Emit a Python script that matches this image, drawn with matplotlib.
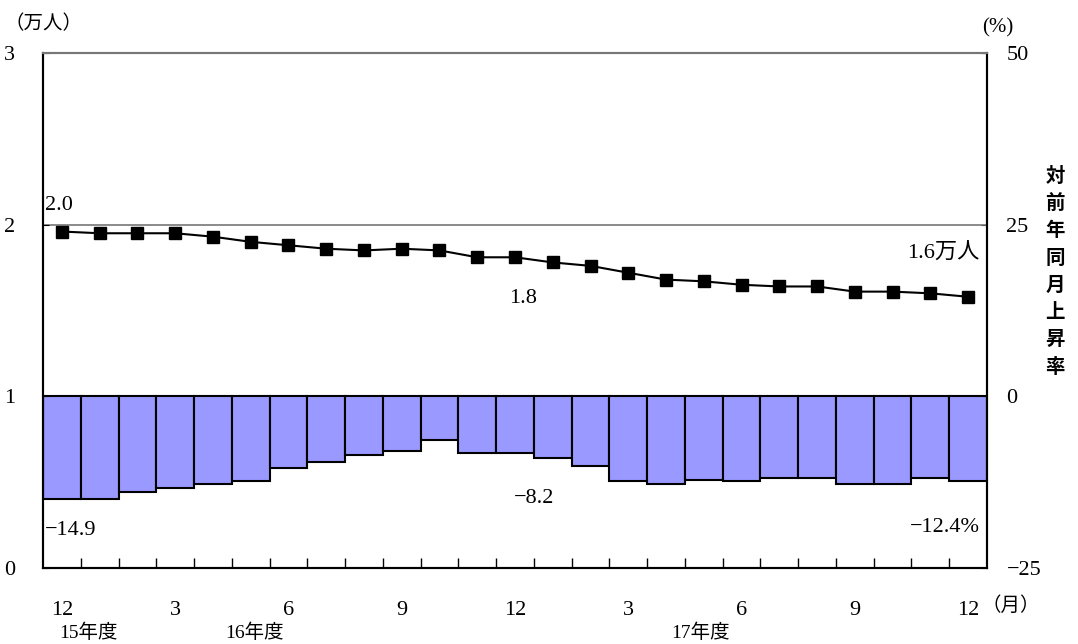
import numpy as np
import matplotlib
matplotlib.use('Agg')
import matplotlib.pyplot as plt
from matplotlib.ticker import FixedLocator

plt.rcParams['font.family'] = ['Liberation Serif', 'Noto Sans CJK JP']

# monthly data, H15.12 -> H17.12
months = [12, 1, 2, 3, 4, 5, 6, 7, 8, 9, 10, 11, 12,
          1, 2, 3, 4, 5, 6, 7, 8, 9, 10, 11, 12]
workers = [1.96, 1.95, 1.95, 1.95, 1.93, 1.90, 1.88, 1.86, 1.85, 1.86, 1.85, 1.81, 1.81,
           1.78, 1.76, 1.72, 1.68, 1.67, 1.65, 1.64, 1.64, 1.61, 1.61, 1.60, 1.58]
rate = [-14.9, -14.9, -13.9, -13.4, -12.8, -12.4, -10.4, -9.5, -8.6, -7.9, -6.4, -8.2, -8.2,
        -9.0, -10.2, -12.4, -12.8, -12.2, -12.4, -11.9, -11.9, -12.8, -12.8, -11.9, -12.4]
label_months = [12, 3, 6, 9, 12, 3, 6, 9, 12]
year_labels = ['15年度', '16年度', '17年度']
year_pos = [0.7, 5.1, 16.9]

x = np.arange(len(months))
fs = 16

fig = plt.figure(figsize=(10.78, 6.44), dpi=100)
ax = fig.add_axes([0.0399, 0.118, 0.8757, 0.7997])
ax2 = ax.twinx()

# bars on right axis (%)
ax2.bar(x, rate, width=1.0, color='#9999ff', edgecolor='black', linewidth=1.5)
ax2.set_ylim(-25, 50)
ax2.set_yticks([-25, 0, 25, 50])
ax2.set_yticklabels(['−25', '0', '25', '50'])
ax2.tick_params(axis='y', direction='in', length=4, pad=14, labelsize=fs)

# line on left axis
ax.set_zorder(ax2.get_zorder() + 1)
ax.patch.set_visible(False)
ax.axhline(2, color='#777777', lw=1.2, zorder=1)
ax.plot(x, workers, color='black', lw=1.5, marker='s', markersize=9, zorder=3)
ax.set_ylim(0, 3)
ax.set_xlim(-0.5, len(months) - 0.5)
ax.set_yticks([0, 1, 2, 3])
ax.tick_params(axis='y', direction='in', length=4, pad=20, labelsize=fs)

ax.set_xticks(x[::3])
ax.set_xticklabels([str(m) for m in label_months])
ax.xaxis.set_minor_locator(FixedLocator(np.arange(0.5, len(months) - 1, 1.0)))
ax.tick_params(axis='x', which='major', length=0, pad=24, labelsize=fs)
ax.tick_params(axis='x', which='minor', direction='in', length=7, width=1)
ax2.tick_params(axis='x', length=0)

for a in (ax, ax2):
    a.spines['top'].set_color('#777777')
    a.spines['top'].set_linewidth(1.5)
    for s in ('left', 'right', 'bottom'):
        a.spines[s].set_linewidth(1.5)

# year labels
for xp, t in zip(year_pos, year_labels):
    ax.text(xp, -0.38, t, fontsize=14, ha='center', va='center')

# axis unit labels
fig.text(0.040, 0.963, '（万人）', fontsize=14, ha='center', va='center')
fig.text(0.926, 0.957, '(%)', fontsize=15, ha='center', va='center')
fig.text(0.938, 0.060, '（月）', fontsize=14, ha='center', va='center')
fig.text(0.979, 0.578, '\n'.join('対前年同月上昇率'), fontsize=14, ha='center', va='center',
         fontweight='bold', family=['Noto Sans CJK JP'], linespacing=1.55)

# value annotations
ax.text(-0.45, 2.11, '2.0', fontsize=fs, ha='left', va='center')
ax.text(12.2, 1.57, '1.8', fontsize=fs, ha='center', va='center')
ax.text(24.3, 1.83, '1.6万人', fontsize=fs, ha='right', va='center')
ax2.text(-0.45, -19.5, '−14.9', fontsize=fs, ha='left', va='center')
ax2.text(12.5, -14.9, '−8.2', fontsize=fs, ha='center', va='center')
ax2.text(24.3, -19.1, '−12.4%', fontsize=fs, ha='right', va='center')

fig.savefig('out.png', dpi=100)
